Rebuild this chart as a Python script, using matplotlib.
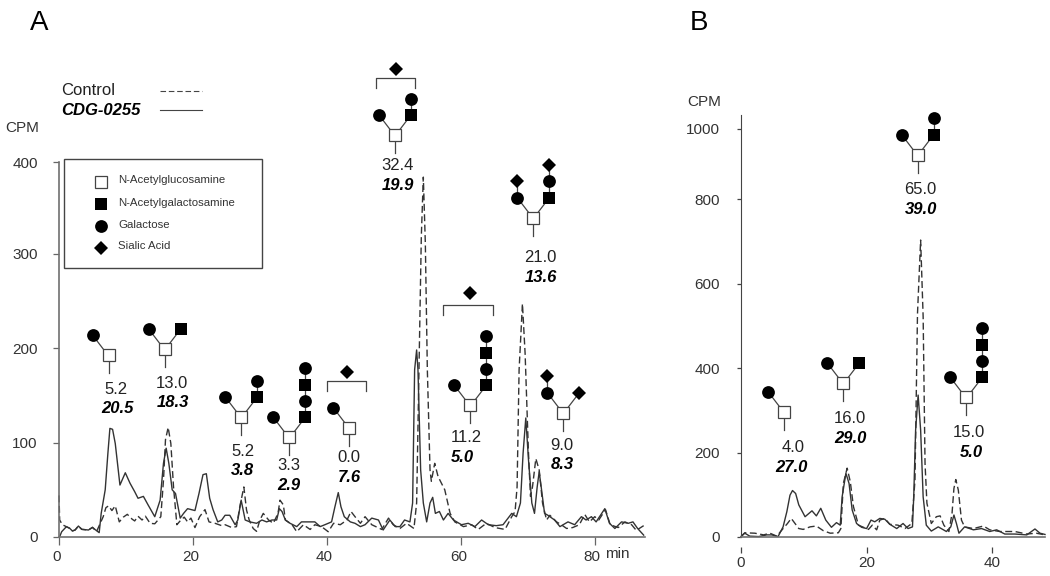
import matplotlib
matplotlib.use('Agg')
import matplotlib.pyplot as plt
from matplotlib.transforms import ScaledTranslation

plt.rcParams['font.family'] = ['Liberation Sans', 'DejaVu Sans']

# panel A (min, CPM)
a_solid_x = [0.1, 0.4, 1.1, 1.6, 2.0, 2.4, 2.9, 3.4, 4.4, 5.0, 5.6, 6.0, 6.3, 6.9, 7.3, 7.6, 8.0, 8.4, 9.1, 9.9,
             10.6, 11.3, 11.8, 12.6, 13.3, 14.3, 15.1, 15.6, 16.0, 16.4, 16.9, 17.4, 18.1, 18.6, 19.2, 20.3, 20.9,
             21.5, 22.0, 22.5, 23.0, 23.7, 24.3, 24.8, 25.5, 26.3, 26.7, 27.2, 27.8, 28.5, 29.5, 30.3, 31.0, 31.8,
             32.5, 32.9, 33.3, 33.8, 34.5, 35.5, 36.2, 37.2, 38.2, 39.0, 39.7, 40.7, 41.2, 41.7, 42.1, 42.6, 43.5,
             44.2, 45.0, 45.7, 46.7, 47.7, 48.4, 49.4, 50.2, 50.9, 51.6, 52.4, 52.8, 53.1, 53.4, 53.6, 54.0, 54.4,
             54.9, 55.4, 55.8, 56.2, 56.8, 57.4, 58.1, 58.9, 60.1, 61.1, 62.1, 63.1, 64.1, 65.3, 66.3, 67.6, 68.3,
             68.9, 69.3, 69.7, 70.1, 70.6, 71.0, 71.4, 71.7, 72.0, 72.5, 73.0, 74.0, 74.8, 76.0, 77.0, 78.0, 78.7,
             79.5, 80.2, 81.5, 82.2, 83.0, 84.0, 85.0, 85.7, 86.4, 87.3]
a_solid_y = [0.4, 5.6, 10.9, 9.2, 6.4, 7.4, 11.6, 8.1, 7.4, 10.2, 6.7, 4.6, 25, 50, 88.6, 115, 114, 99, 55, 68,
             57, 48, 41, 43, 34, 21.5, 39, 78, 94, 78, 50, 46, 20, 25, 30, 28, 46,
             66, 67, 41, 29, 16, 18, 23, 23, 13, 18, 39, 18, 16, 14.5, 18, 16, 18,
             18, 30, 27, 18, 14.5, 11, 16, 16, 16, 11, 13, 16, 32, 47, 32, 21.5, 16,
             14.5, 11, 13, 20, 18, 7.4, 18, 11, 11, 18, 16, 36, 177, 198, 177, 71, 36,
             16, 36, 42, 25, 27, 18, 25, 18, 13, 14.5, 11, 18, 13, 12, 13, 25, 21.5,
             36, 89, 126, 82, 36, 25, 53, 69, 53, 25, 23, 18, 11, 16, 13, 21.5, 18,
             21.5, 16, 30, 14.5, 9, 16, 14.5, 16, 9, 2]
a_dash_x = [0.0, 0.1, 0.5, 1.1, 1.6, 2.0, 2.4, 2.9, 3.4, 4.4, 5.0, 5.6, 6.6, 7.0, 7.4, 7.9, 8.4, 9.0, 9.6, 10.2,
            10.9, 11.3, 11.8, 12.4, 12.9, 13.6, 14.3, 15.2, 15.6, 15.9, 16.3, 16.7, 17.1, 17.6, 18.2, 18.7, 19.2,
            19.7, 20.3, 21.0, 21.8, 22.4, 23.3, 24.3, 24.8, 25.8, 26.5, 27.0, 27.6, 28.0, 28.4, 29.0, 29.5, 30.0,
            30.5, 31.3, 32.0, 32.7, 33.0, 33.5, 33.8, 34.8, 35.5, 36.5, 37.5, 38.2, 39.2, 40.2, 41.0, 42.0, 43.0,
            43.6, 44.2, 45.0, 45.7, 46.7, 48.2, 49.2, 49.9, 50.9, 51.9, 53.0, 53.4, 53.8, 54.1, 54.4, 54.7, 55.0,
            55.4, 55.6, 56.1, 56.6, 57.6, 58.4, 59.1, 60.4, 61.6, 62.6, 63.8, 65.1, 66.6, 67.6, 68.1, 68.4, 68.7,
            69.2, 69.6, 70.1, 70.4, 70.7, 71.2, 71.7, 72.2, 72.8, 73.3, 74.3, 75.0, 75.8, 76.7, 77.7, 78.5, 79.2,
            80.0, 80.6, 81.6, 82.3, 83.5, 84.5, 85.5, 86.2, 87.3]
a_dash_y = [44, 18, 13, 10.9, 9.2, 6.4, 7.4, 11.6, 8.1, 7.4, 10.2, 5.6, 21.5, 31, 33, 28, 33, 16, 21, 24,
            19, 17, 22, 18, 22, 14.5, 14, 21.5, 60, 103, 116, 99, 53, 13, 18, 21, 16,
            20, 10, 21.5, 29, 16, 14.5, 12, 13, 10, 11, 32, 53, 28.6, 18, 9, 6, 18,
            25, 18, 14.5, 25, 39, 34, 18, 13, 5.6, 13, 8, 13, 11, 5.6, 14.5, 13, 18,
            27, 21.5, 14.5, 21.5, 13, 8, 20, 13, 9, 14.5, 9, 36, 194, 318, 381, 311, 177,
            71, 59, 78, 64, 50, 25, 16, 11, 13, 8, 14.5, 10, 8, 21.5, 27, 53, 177,
            247, 194, 89, 43, 53, 83, 71, 36, 18, 23, 16, 13, 9, 10, 13, 24, 16,
            21.5, 18, 29, 13, 10, 16, 13, 7, 12]

# panel B
b_solid_x = [0.0, 0.6, 1.4, 2.8, 4.1, 4.9, 5.9, 6.7, 7.3, 7.8, 8.2, 8.7, 9.2, 10.2, 11.3, 12.0, 12.7, 13.5, 14.4,
             15.2, 15.8, 16.1, 16.7, 17.2, 17.7, 18.4, 19.2, 20.0, 20.7, 21.3, 22.1, 22.9, 23.7, 24.8, 25.8, 26.6,
             27.3, 27.5, 27.8, 28.2, 28.6, 29.0, 29.5, 30.3, 31.4, 32.7, 33.4, 33.9, 34.3, 34.7, 35.6, 37.0, 38.3,
             39.6, 40.7, 42.0, 43.6, 45.5, 46.8, 47.6, 48.4]
b_solid_y = [1, 9, 2, 1, 5, 5, 1, 24, 60, 99, 110, 103, 76, 48, 62, 50, 68, 40, 23,
             34, 28, 95, 151, 127, 64, 32, 23, 20, 40, 36, 44, 42, 30, 20, 32, 20,
             24, 95, 253, 336, 253, 95, 28, 14, 24, 13, 24, 52, 32, 9, 24, 17, 20,
             13, 17, 7, 7, 5, 19, 9, 6]
b_dash_x = [0.0, 0.6, 2.2, 3.6, 4.6, 5.7, 6.7, 7.4, 8.0, 8.6, 9.2, 9.9, 11.0, 12.0, 13.1, 14.2, 15.5, 15.9, 16.3,
            16.9, 17.4, 17.9, 18.7, 19.5, 20.3, 20.9, 21.6, 22.1, 22.9, 23.7, 25.0, 26.1, 27.2, 27.7, 28.1, 28.6,
            29.0, 29.3, 29.6, 30.3, 31.1, 31.7, 32.3, 33.1, 33.6, 33.9, 34.2, 34.6, 35.1, 35.6, 37.0, 38.6, 39.6,
            41.2, 43.6, 45.5, 47.0, 48.4]
b_dash_y = [1, 10, 9, 5, 9, 2, 20, 32, 44, 32, 20, 18, 24, 26, 15, 9, 10, 20, 127,
            163, 131, 72, 28, 23, 18, 28, 17, 40, 44, 30, 28, 20, 32, 135, 529, 703,
            521, 174, 80, 32, 48, 50, 28, 13, 56, 115, 136, 111, 40, 24, 20, 26, 17,
            13, 13, 7, 9, 5]

a_xticks = [0, 20, 40, 60, 80]
a_yticks = [0, 100, 200, 300, 397]
a_ylabels = ['0', '100', '200', '300', '400']
b_xticks = [0, 20, 40]
b_yticks = [0, 200, 400, 600, 800, 967]
b_ylabels = ['0', '200', '400', '600', '800', '1000']

W, H = 1050, 576
INK = '#333333'


def box(l, t, r, b):
    return [l / W, (H - b) / H, (r - l) / W, (b - t) / H]


fig = plt.figure(figsize=(W / 100, H / 100), dpi=100)

# panel A
ax = fig.add_axes(box(59, 162, 645, 537))
ax.plot(a_dash_x, a_dash_y, color='#333333', lw=1.0, dashes=(5, 2.5), clip_on=False)
ax.plot(a_solid_x, a_solid_y, color='#333333', lw=1.0, clip_on=False)
ax.set_xlim(0, 87.5)
ax.set_ylim(0, 397)
ax.set_xticks(a_xticks)
ax.set_yticks(a_yticks, a_ylabels)
ax.tick_params(axis='y', length=4.3, width=0.9, pad=11, color='#666666', labelsize=11, labelcolor=INK)
ax.tick_params(axis='x', length=5.5, width=0.9, pad=4, color='#666666', labelsize=11, labelcolor=INK)
for lab in ax.get_xticklabels():
    lab.set_transform(lab.get_transform() + ScaledTranslation(-2.5 / 100, 0, fig.dpi_scale_trans))
for s in ['top', 'right']:
    ax.spines[s].set_visible(False)
for s in ['left', 'bottom']:
    ax.spines[s].set_color('#707070')
    ax.spines[s].set_linewidth(1.2)

# panel B
bx = fig.add_axes(box(741, 115, 1045, 537))
bx.plot(b_dash_x, b_dash_y, color='#333333', lw=1.0, dashes=(5, 2.5), clip_on=False)
bx.plot(b_solid_x, b_solid_y, color='#333333', lw=1.0, clip_on=False)
bx.set_xlim(0, 48.4)
bx.set_ylim(0, 999)
bx.set_xticks([])
bx.set_yticks(b_yticks, b_ylabels)
bx.tick_params(axis='y', length=3, width=0.9, pad=12, color='#444444', labelsize=11, labelcolor=INK)
for s in ['top', 'right']:
    bx.spines[s].set_visible(False)
bx.spines['left'].set_color('#444444')
bx.spines['bottom'].set_color('#707070')
bx.spines['bottom'].set_linewidth(1.2)
sec = bx.secondary_xaxis(-0.024)
sec.set_xticks(b_xticks)
sec.tick_params(length=4.5, width=0.9, pad=2, color='#444444', labelsize=11, labelcolor=INK)
sec.spines['bottom'].set_visible(False)

# everything else is placed in picture pixels on a clear overlay
ov = fig.add_axes([0, 0, 1, 1], zorder=5)
ov.set_xlim(0, W)
ov.set_ylim(H, 0)
ov.axis('off')


def sym(x, y, kind):
    if kind == 'O':
        ov.plot(x, y, 's', ms=8.6, mfc='white', mec='#444444', mew=0.9, zorder=4)
    elif kind == 'N':
        ov.plot(x, y, 's', ms=9, color='black', mew=0, zorder=4)
    elif kind == 'G':
        ov.plot(x, y, 'o', ms=9.2, color='black', mew=0, zorder=4)
    else:
        ov.plot(x, y, 'D', ms=7.6, color='black', mew=0, zorder=4)


def glycan(cx, cy, left, right=''):
    ov.plot([cx, cx], [cy + 6, cy + 18], color='#444444', lw=0.9)
    sym(cx, cy, 'O')
    for side, chain in [(-1, left), (1, right)]:
        px, py = cx + side * 3, cy - 3
        x = cx + side * 16
        for i, kind in enumerate(chain):
            y = cy - 20 - 16.3 * i
            ov.plot([px, x], [py, y], color='#444444', lw=0.9, zorder=3)
            sym(x, y, kind)
            px, py = x, y


def bracket(x0, x1, y, dx):
    ov.plot([x0, x0, x1, x1], [y + 10, y, y, y + 10], color='#444444', lw=0.9)
    sym(dx, y - 9 - (3 if x1 - x0 > 45 else 0), 'S')


glycan(108.5, 355, 'G')
glycan(164.7, 349, 'G', 'N')
glycan(241.3, 417, 'G', 'NG')
glycan(289.3, 437.3, 'G', 'NGNG')
glycan(349.3, 427.7, 'G')
glycan(395, 135, 'G', 'NG')
glycan(470.3, 405.3, 'G', 'NGNG')
glycan(533.3, 217.7, 'GS', 'NGS')
glycan(563.3, 412.7, 'GS', 'S')
glycan(784.3, 412, 'G')
glycan(843.3, 383, 'G', 'N')
glycan(966.3, 397.3, 'G', 'NGNG')
glycan(917.7, 154.7, 'G', 'NG')
bracket(327.3, 366, 381, 346.7)
bracket(376, 414.7, 78, 395.7)
bracket(442.7, 493.3, 305.3, 470)

plain = [('5.2', 116, 389), ('13.0', 172, 383), ('5.2', 242.7, 451), ('3.3', 288.7, 465.3), ('0.0', 349, 457),
         ('32.4', 397.3, 166), ('11.2', 466, 437.7), ('21.0', 540.7, 258), ('9.0', 562.3, 445),
         ('4.0', 793.3, 447.7), ('16.0', 849.7, 418.7), ('15.0', 968.7, 432.7), ('65.0', 920.3, 189.7)]
bold = [('20.5', 117.7, 408.7), ('18.3', 172.7, 402.3), ('3.8', 242.7, 470.3), ('2.9', 288.7, 485), ('7.6', 349, 477),
        ('19.9', 398.3, 185.7), ('5.0', 462, 457.7), ('13.6', 541, 278), ('8.3', 562.7, 464.7),
        ('27.0', 791.3, 467.7), ('29.0', 850, 438.7), ('5.0', 971.7, 452.3), ('39.0', 920.7, 209.7)]
for t, x, y in plain:
    ov.text(x, y, t, ha='center', va='center', fontsize=12, color='#222222')
for t, x, y in bold:
    ov.text(x, y, t, ha='center', va='center', fontsize=12, color='black', weight='bold', style='italic')

# glycan key
ov.add_patch(plt.Rectangle((63.7, 159.3), 198.6, 108.4, fc='white', ec='#444444', lw=1, zorder=2))
key = ['N-Acetylglucosamine', 'N-Acetylgalactosamine', 'Galactose', 'Sialic Acid']
key_kinds = ['O', 'N', 'G', 'S']
key_sym_y = [182, 204, 226, 247.7]
key_txt_y = [180.3, 202.7, 224.7, 246]
for t, k, sy, ty in zip(key, key_kinds, key_sym_y, key_txt_y):
    sym(100.7, sy, k)
    ov.text(118.3, ty, t, ha='left', va='center', fontsize=8.2, color=INK, zorder=4)

# trace key
ov.text(61, 90.7, 'Control', ha='left', va='center', fontsize=12, color='#222222')
ov.text(61, 110.3, 'CDG-0255', ha='left', va='center', fontsize=12, color='black', weight='bold', style='italic')
ov.plot([160, 202], [90.7, 90.7], color='#444444', lw=0.8, dashes=(5, 2.5))
ov.plot([160, 202], [110, 110], color='#444444', lw=0.8)

ov.text(22.5, 128, 'CPM', ha='center', va='center', fontsize=11, color=INK)
ov.text(704.5, 101.7, 'CPM', ha='center', va='center', fontsize=11, color=INK)
ov.text(617.5, 554, 'min', ha='center', va='center', fontsize=11, color=INK)
ov.text(39, 23, 'A', ha='center', va='center', fontsize=20, color='black')
ov.text(698.5, 23, 'B', ha='center', va='center', fontsize=20, color='black')

fig.savefig('out.png', dpi=100)
